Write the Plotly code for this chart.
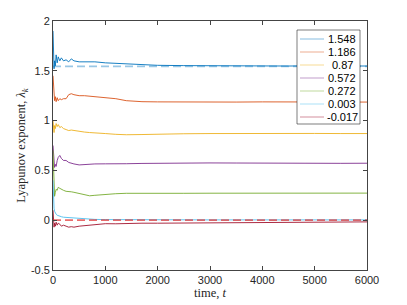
import plotly.graph_objects as go

# ---- data ----
t = [0, 10, 20, 30, 45, 60, 80, 100, 130, 160, 200, 250, 300, 350, 400, 500,
     600, 700, 800, 1000, 1200, 1400, 1700, 2000, 2500, 3000, 3500, 4000,
     4500, 5000, 5500, 6000]

lam1 = [1.90, 1.70, 1.52, 1.60, 1.55, 1.66, 1.58, 1.64, 1.60, 1.63, 1.60, 1.61,
        1.59, 1.62, 1.60, 1.59, 1.59, 1.585, 1.59, 1.58, 1.575, 1.57, 1.56,
        1.555, 1.552, 1.55, 1.552, 1.55, 1.548, 1.55, 1.55, 1.548]
lam2 = [1.45, 1.35, 1.25, 1.20, 1.24, 1.19, 1.23, 1.20, 1.22, 1.21, 1.22, 1.22,
        1.26, 1.27, 1.26, 1.25, 1.25, 1.245, 1.24, 1.235, 1.22, 1.20, 1.19,
        1.188, 1.186, 1.188, 1.186, 1.188, 1.186, 1.185, 1.186, 1.186]
lam3 = [1.00, 0.92, 0.88, 0.95, 0.92, 0.97, 0.94, 0.96, 0.93, 0.94, 0.92, 0.91,
        0.90, 0.905, 0.90, 0.89, 0.885, 0.88, 0.878, 0.87, 0.862, 0.858, 0.86,
        0.865, 0.868, 0.87, 0.872, 0.873, 0.872, 0.871, 0.87, 0.87]
lam4 = [0.75, 0.62, 0.55, 0.53, 0.56, 0.54, 0.60, 0.63, 0.65, 0.62, 0.60, 0.60,
        0.58, 0.57, 0.565, 0.555, 0.56, 0.562, 0.565, 0.566, 0.563, 0.567,
        0.57, 0.572, 0.575, 0.575, 0.574, 0.572, 0.571, 0.569, 0.571, 0.572]
lam5 = [0.70, 0.45, 0.30, 0.24, 0.28, 0.31, 0.30, 0.33, 0.32, 0.31, 0.30, 0.29,
        0.29, 0.285, 0.28, 0.27, 0.255, 0.245, 0.25, 0.26, 0.266, 0.27, 0.272,
        0.27, 0.27, 0.271, 0.272, 0.27, 0.268, 0.27, 0.272, 0.272]
lam6 = [0.40, 0.20, 0.12, 0.09, 0.07, 0.06, 0.05, 0.045, 0.04, 0.035, 0.03,
        0.028, 0.025, 0.022, 0.02, 0.015, 0.012, 0.01, 0.008, 0.006, 0.005,
        0.005, 0.004, 0.004, 0.004, 0.003, 0.003, 0.003, 0.003, 0.003, 0.003,
        0.003]
lam7 = [0.10, -0.02, -0.07, -0.03, -0.06, -0.02, -0.05, -0.03, -0.04, -0.06,
        -0.05, -0.06, -0.07, -0.065, -0.07, -0.06, -0.055, -0.05, -0.042,
        -0.035, -0.036, -0.032, -0.03, -0.03, -0.028, -0.03, -0.026, -0.025,
        -0.022, -0.022, -0.02, -0.017]

labels = ["1.548", "1.186", "0.87", "0.572", "0.272", "0.003", "-0.017"]
series = [lam1, lam2, lam3, lam4, lam5, lam6, lam7]

# dashed reference levels
ref_values = [1.545, 0.0]

x_ticks = [0, 1000, 2000, 3000, 4000, 5000, 6000]
y_ticks = [-0.5, 0, 0.5, 1, 1.5, 2]
y_tick_text = ["-0.5", "0", "0.5", "1", "1.5", "2"]

colors = [(0, 114, 189), (217, 83, 25), (237, 177, 32), (126, 47, 142),
          (119, 172, 48), (77, 190, 238), (162, 20, 47)]
ref_colors = ["rgba(0,114,189,0.4)", "rgba(225,45,45,0.7)"]

def rgba(c, a):
    return f"rgba({c[0]},{c[1]},{c[2]},{a})"

fig = go.Figure()
for s, c in zip(series, colors):
    fig.add_trace(go.Scatter(x=t, y=s, mode="lines", showlegend=False,
                             line=dict(color=rgba(c, 0.9), width=1)))
for v, c in zip(ref_values, ref_colors):
    fig.add_trace(go.Scatter(x=[t[0], t[-1]], y=[v, v], mode="lines",
                             showlegend=False,
                             line=dict(color=c, width=1.8, dash="8px,4px")))

# ---- manual legend (centered text like the reference) ----
W, H = 314, 249
def px(xp):
    return (xp - 53) / W
def py(yp):
    return (270 - yp) / H

shapes = [dict(type="rect", xref="paper", yref="paper",
               x0=px(297), x1=px(360), y0=py(124), y1=py(30),
               line=dict(color="#262626", width=0.6), fillcolor="white",
               layer="above")]
annotations = []
row_y = [39, 52, 65, 78, 91, 104, 117]
for lab, c, ry in zip(labels, colors, row_y):
    shapes.append(dict(type="line", xref="paper", yref="paper",
                       x0=px(300), x1=px(324), y0=py(ry), y1=py(ry),
                       line=dict(color=rgba(c, 0.4), width=1.2), layer="above"))
    annotations.append(dict(xref="paper", yref="paper", x=px(342), y=py(ry),
                            text=lab, showarrow=False, xanchor="center",
                            yanchor="middle", align="center",
                            font=dict(family="Liberation Sans", size=11,
                                      color="#000")))

axis_common = dict(showline=True, linecolor="#444", linewidth=0.8,
                   mirror="ticks", ticks="inside", ticklen=4, tickcolor="#444",
                   showgrid=False, zeroline=False, automargin=False,
                   tickfont=dict(family="Liberation Sans", size=11,
                                 color="#262626"))

fig.update_layout(
    width=407, height=305,
    margin=dict(l=53, r=40, t=21, b=35),
    paper_bgcolor="white", plot_bgcolor="white",
    shapes=shapes, annotations=annotations,
    xaxis=dict(range=[0, 6000], tickvals=x_ticks,
               title=dict(text="time, <i>t</i>", standoff=1,
                          font=dict(family="Liberation Serif", size=12.5,
                                    color="#262626")),
               **axis_common),
    yaxis=dict(range=[-0.5, 2], tickvals=y_ticks, ticktext=y_tick_text,
               title=dict(text="Lyapunov exponent, <i>λ</i><sub><i>k</i></sub>",
                          standoff=2,
                          font=dict(family="Liberation Serif", size=12.5,
                                    color="#262626")),
               **axis_common),
)

fig.write_html("out.html",
               config={"displayModeBar": False},
               post_script="document.body.style.margin='0';"
                           "document.body.style.overflow='hidden';")
